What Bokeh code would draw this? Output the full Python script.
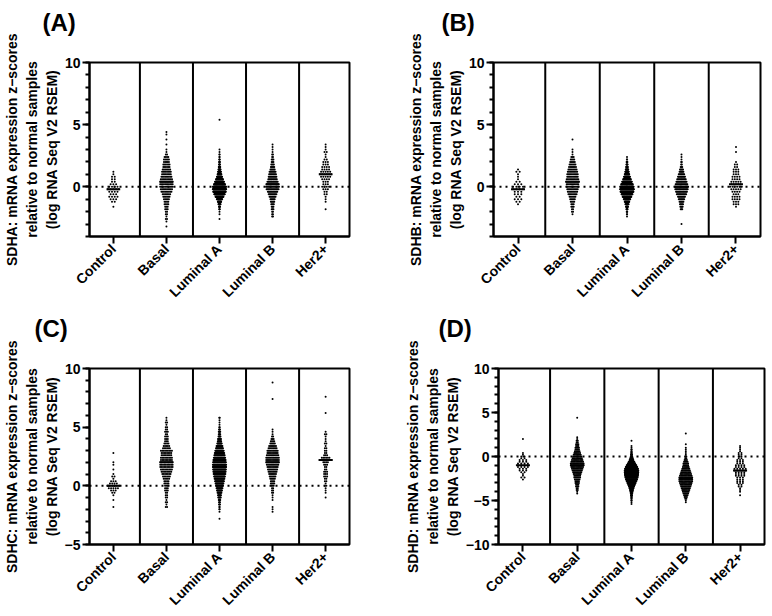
import math
import numpy as np
from bokeh.plotting import figure
from bokeh.models import FixedTicker, Span, LinearAxis, Title
from bokeh.layouts import column, row
from bokeh.embed import file_html
from bokeh.resources import INLINE

groups = ["Control", "Basal", "Luminal A", "Luminal B", "Her2+"]
BIN = 0.2  # width of each z-score bin

# Each subtype: centre of its lowest bin, then the number of samples per 0.2-wide bin going up.
sdha_lo = [-1.6, -3.2, -2.6, -2.4, -1.8]
sdha_counts = [
    [1, 0, 2, 3, 4, 3, 4, 5, 4, 3, 2, 2, 2, 1, 1],
    [1, 0, 1, 2, 1, 2, 2, 3, 3, 4, 4, 5, 6, 7, 9, 10, 11, 11, 11, 10, 9, 8, 8, 7, 6, 6, 5, 5, 4, 2,
     1, 1, 0, 1, 0, 1, 0, 1, 1],
    [1, 0, 1, 1, 3, 5, 9, 14, 22, 32, 42, 50, 54, 52, 44, 36, 28, 21, 16, 12, 9, 7, 5, 4, 3, 2, 2,
     1, 1, 0, 0, 0, 0, 0, 0, 0, 0, 0, 0, 0, 1],
    [2, 2, 2, 3, 3, 4, 5, 6, 8, 10, 12, 15, 16, 15, 13, 11, 10, 9, 8, 6, 5, 4, 3, 3, 2, 2, 1, 1, 1, 1],
    [1, 0, 0, 1, 1, 1, 2, 2, 3, 4, 3, 3, 4, 5, 6, 5, 4, 4, 3, 3, 2, 1, 1, 2, 1, 1, 1],
]

sdhb_lo = [-1.4, -2.2, -2.4, -3.0, -1.6]
sdhb_counts = [
    [1, 2, 3, 2, 3, 3, 4, 4, 3, 2, 1, 1, 1, 2, 1],
    [1, 2, 2, 3, 3, 4, 5, 6, 8, 9, 10, 11, 11, 12, 11, 10, 10, 9, 8, 7, 6, 5, 4, 3, 1, 1, 1, 0, 0,
     0, 1],
    [1, 2, 3, 5, 8, 12, 17, 24, 32, 40, 47, 50, 48, 42, 35, 28, 22, 17, 13, 10, 7, 5, 4, 2, 1],
    [1, 0, 0, 0, 0, 0, 3, 4, 5, 6, 8, 10, 13, 15, 17, 18, 16, 14, 12, 10, 8, 6, 5, 3, 2, 2, 1, 1, 1],
    [1, 3, 3, 4, 4, 3, 4, 5, 6, 5, 5, 4, 4, 3, 3, 3, 2, 2, 1, 0, 0, 0, 1, 0, 1],
]

sdhc_lo = [-1.8, -1.8, -2.8, -2.2, -1.0]
sdhc_counts = [
    [1, 0, 0, 1, 0, 1, 2, 3, 5, 6, 4, 3, 1, 2, 1, 0, 1, 0, 1, 1, 0, 0, 0, 1],
    [2, 1, 2, 1, 2, 2, 2, 3, 3, 3, 4, 4, 5, 6, 7, 8, 9, 10, 10, 10, 9, 9, 8, 8, 9, 6, 5, 4, 3, 3,
     3, 2, 3, 2, 2, 1, 2, 1, 1],
    [1, 0, 0, 1, 2, 2, 3, 3, 4, 6, 7, 9, 11, 13, 15, 17, 19, 21, 23, 25, 26, 27, 28, 28, 27, 26,
     24, 22, 20, 18, 15, 13, 10, 8, 7, 5, 4, 4, 3, 2, 1, 1, 1, 2],
    [1, 1, 1, 0, 0, 1, 1, 1, 2, 2, 2, 3, 4, 4, 5, 6, 7, 8, 9, 10, 11, 12, 12, 12, 11, 10, 10, 8,
     7, 5, 4, 3, 2, 1, 1, 1, 0, 0, 0, 0, 0, 0, 0, 0, 0, 0, 0, 0, 1, 0, 0, 0, 0, 0, 0, 1],
    [1, 0, 1, 1, 1, 2, 1, 2, 2, 3, 3, 3, 2, 2, 3, 4, 9, 6, 3, 2, 2, 2, 1, 2, 1, 1, 1, 2, 1, 0, 0,
     0, 0, 0, 0, 0, 1, 0, 0, 0, 0, 0, 0, 1],
]

sdhd_lo = [-2.6, -4.2, -5.4, -5.2, -4.4]
sdhd_counts = [
    [1, 2, 1, 1, 2, 3, 3, 4, 4, 4, 3, 3, 2, 2, 1, 1, 0, 0, 0, 0, 0, 0, 0, 1],
    [1, 1, 2, 2, 3, 3, 4, 4, 5, 6, 6, 7, 8, 9, 10, 11, 12, 12, 11, 10, 9, 8, 7, 6, 5, 4, 4, 3, 3,
     2, 2, 1, 1, 0, 0, 0, 0, 0, 0, 0, 0, 0, 0, 1],
    [1, 1, 2, 2, 3, 4, 5, 7, 9, 12, 15, 19, 23, 27, 31, 34, 36, 37, 38, 38, 36, 32, 27, 21, 16, 11,
     8, 5, 4, 3, 2, 2, 1, 1, 0, 0, 1],
    [1, 1, 2, 3, 4, 5, 6, 7, 8, 9, 10, 11, 12, 12, 12, 11, 10, 9, 8, 7, 6, 5, 5, 4, 3, 2, 2, 1, 1,
     1, 1, 1, 0, 1, 0, 0, 0, 0, 0, 1],
    [1, 0, 1, 1, 1, 2, 2, 3, 3, 3, 3, 4, 4, 4, 5, 5, 4, 4, 3, 3, 3, 2, 2, 2, 2, 1, 1, 1, 1],
]

FONT = "Liberation Sans"


def swarm(ci, lo, counts, px_per_x, max_w_px=14.0, max_step_px=3.3):
    """Spread the samples of one bin side by side around the category centre."""
    step = min(max_step_px, max_w_px / max(counts))
    xs, ys = [], []
    for k, n in enumerate(counts):
        y = lo + BIN * k
        for i in range(n):
            xs.append(ci + (i - (n - 1) / 2) * step / px_per_x)
            ys.append(y)
    return xs, ys


def label_axis(text, standoff):
    """A bare left axis that only carries one line of the y title."""
    ax = LinearAxis(ticker=FixedTicker(ticks=[]), axis_label=text,
                    axis_line_color=None, major_tick_line_color=None,
                    minor_tick_line_color=None, major_label_text_font_size="0px",
                    major_label_standoff=0, major_tick_out=0, minor_tick_out=0,
                    major_tick_in=0, minor_tick_in=0,
                    axis_label_standoff=standoff)
    ax.axis_label_text_font = FONT
    ax.axis_label_text_font_size = "14px"
    ax.axis_label_text_font_style = "bold"
    ax.axis_label_text_color = "black"
    return ax


def panel(tag, gene, ylo, yhi, majors, los, counts, bl, br, bt, bb, toff):
    w, h = 386, 308
    p = figure(width=w, height=h, x_range=(-0.45, 4.45), y_range=(ylo, yhi),
               output_backend="svg", toolbar_location=None,
               min_border_left=bl, min_border_right=br,
               min_border_top=bt, min_border_bottom=bb)
    p.background_fill_color = "white"
    p.border_fill_color = "white"
    p.outline_line_color = "black"
    p.outline_line_width = 2
    p.grid.visible = False

    # empty band between the panel tag and the plot frame
    p.add_layout(Title(text=" ", text_font_size="16px", standoff=6), "above")
    p.title.text = tag
    p.title.text_font = FONT
    p.title.text_font_size = "24px"
    p.title.text_font_style = "bold"
    p.title.text_color = "black"
    p.title.align = "left"
    p.title.offset = toff
    p.title.standoff = 4

    frame_w = w - bl - br
    px_per_x = frame_w / 4.9

    # dotted reference line at zero
    p.add_layout(Span(location=0, dimension="width", line_color="black",
                      line_width=2, line_dash="2 4"))
    # column dividers
    for xb in [0.5, 1.5, 2.5, 3.5]:
        p.add_layout(Span(location=xb, dimension="height", line_color="black",
                          line_width=2))

    for ci, (lo, cnt) in enumerate(zip(los, counts)):
        xs, ys = swarm(ci, lo, cnt, px_per_x)
        p.scatter(xs, ys, marker="circle", size=2.0, fill_color="black",
                  line_color=None)
        vals = np.repeat(lo + BIN * np.arange(len(cnt)), cnt)
        med = float(np.median(vals))
        half = 7.0 / px_per_x
        p.segment(x0=[ci - half], y0=[med], x1=[ci + half], y1=[med],
                  line_color="black", line_width=2)

    xa = p.xaxis[0]
    xa.ticker = FixedTicker(ticks=[0, 1, 2, 3, 4])
    xa.major_label_overrides = {i: g for i, g in enumerate(groups)}
    xa.major_label_orientation = math.pi / 4
    xa.major_label_text_font = FONT
    xa.major_label_text_font_size = "14px"
    xa.major_label_text_font_style = "bold"
    xa.major_label_text_color = "black"
    xa.major_label_standoff = 3
    xa.axis_line_width = 2
    xa.major_tick_line_width = 2
    xa.major_tick_in = 0
    xa.major_tick_out = 7
    xa.minor_tick_line_color = None

    ya = p.yaxis[0]
    ya.ticker = FixedTicker(ticks=majors,
                            minor_ticks=list(range(int(ylo), int(yhi) + 1)))
    ya.major_label_text_font = FONT
    ya.major_label_text_font_size = "14px"
    ya.major_label_text_font_style = "bold"
    ya.major_label_text_color = "black"
    ya.major_label_standoff = 2
    ya.axis_line_width = 2
    ya.major_tick_line_width = 2
    ya.minor_tick_line_width = 2
    ya.major_tick_in = 0
    ya.major_tick_out = 7
    ya.minor_tick_in = 0
    ya.minor_tick_out = 4
    ya.axis_label = "(log RNA Seq V2 RSEM)"
    ya.axis_label_text_font = FONT
    ya.axis_label_text_font_size = "14px"
    ya.axis_label_text_font_style = "bold"
    ya.axis_label_text_color = "black"
    ya.axis_label_standoff = 2

    p.add_layout(label_axis("relative to normal samples", 1), "left")
    p.add_layout(label_axis(gene + ": mRNA expression z\u2212scores", 1), "left")
    return p


pa = panel("(A)", "SDHA", -4, 10, [0, 5, 10], sdha_lo, sdha_counts, 83, 37, 62, 70, -47)
pb = panel("(B)", "SDHB", -4, 10, [0, 5, 10], sdhb_lo, sdhb_counts, 107, 12, 62, 70, -52)
pc = panel("(C)", "SDHC", -5, 10, [-5, 0, 5, 10], sdhc_lo, sdhc_counts, 84, 37, 60, 72, -55)
pd = panel("(D)", "SDHD", -10, 10, [-10, -5, 0, 5, 10], sdhd_lo, sdhd_counts, 112, 8, 60, 72, -60)

layout = column(row(pa, pb, spacing=0), row(pc, pd, spacing=0), spacing=0)
open("out.html", "w").write(file_html(layout, INLINE))
